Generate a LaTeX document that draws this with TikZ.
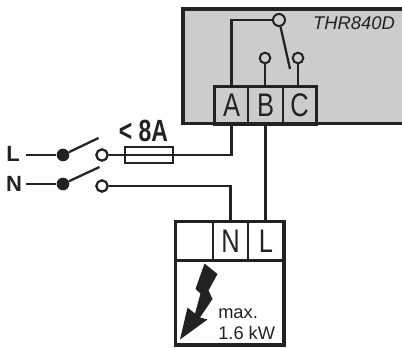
\documentclass[tikz,border=0pt]{standalone}
\usepackage{fontspec}
\setmainfont{Liberation Sans}
\definecolor{housing}{HTML}{CCCCCC}
\definecolor{ink}{HTML}{222222}
\tikzset{
    wire/.style={ink, line width=1.7pt},
    frame/.style={ink, line width=2.4pt},
    contact/.style={circle, draw=ink, line width=1.5pt, inner sep=0pt, minimum size=8pt},
    pivot/.style={circle, fill=ink, inner sep=0pt, minimum size=9.5pt},
    terminal/.style={draw=ink, line width=1.1pt, inner sep=0pt, text=ink, minimum height=27.5pt},
    sidelabel/.style={text=ink, inner sep=0pt, font=\fontsize{16.5}{17}\bfseries\selectfont}
}
\newcommand{\narrowtext}[1]{\scalebox{.78}[1]{\fontsize{24.5}{25}\selectfont #1}}
\begin{document}
\begin{tikzpicture}[x=.75pt, y=-.75pt]
    \useasboundingbox (0,0) rectangle (402,347);

    % thermostat housing
    \fill[housing] (183,9) rectangle (402,123.5);
    \draw[frame, line width=2.8pt] (402,9) -- (183,9) -- (183,123.5) -- (402,123.5);
    \node[text=ink, inner sep=0pt, font=\fontsize{13.8}{14}\itshape\selectfont] (type) at (354,23) {THR840D};

    % terminals
    \node[terminal, minimum width=24.75pt] (A) at (231.5,105.5) {\narrowtext{A}};
    \node[terminal, minimum width=26.25pt] (B) at (265.5,105.5) {\narrowtext{B}};
    \node[terminal, minimum width=24.75pt] (C) at (299.5,105.5) {\narrowtext{C}};
    \draw[frame] (A.north west) rectangle (C.south east);

    % relay
    \node[contact, minimum size=9pt] (relay) at (279,20) {};
    \node[contact] (relayB) at (265,58) {};
    \node[contact] (relayC) at (298,58) {};
    \coordinate (leverend) at (290,69);
    \draw[wire, line width=2.2pt] (A.north) |- (relay.west);
    \draw[wire] (relay) -- (leverend);
    \draw[wire] (relayB) -- (relayB |- B.north);
    \draw[wire] (relayC) -- (relayC |- C.north);

    % switch
    \node[sidelabel] (L) at (13,154) {L};
    \node[sidelabel] (N) at (14,184) {N};
    \node[pivot] (pivotL) at (63,155) {};
    \node[pivot] (pivotN) at (63,184) {};
    \node[contact, line width=1.7pt, minimum size=8.5pt] (contactL) at (102,155) {};
    \node[contact, line width=1.7pt, minimum size=8.5pt] (contactN) at (102,186) {};
    \coordinate (leverL) at (98.5,138);
    \coordinate (leverN) at (99.5,167);
    \draw[wire] (L.east) ++(6,1) -- (pivotL);
    \draw[wire] (N.east) ++(4,0) -- (pivotN);
    \draw[wire] (pivotL) -- (leverL);
    \draw[wire] (pivotN) -- (leverN);

    % fuse
    \node[draw=ink, line width=1.4pt, inner sep=0pt, minimum width=36pt, minimum height=12pt] (fuse) at (149,155) {};
    \node[text=ink, inner sep=0pt] (rating) at (143.5,131) {\scalebox{.75}[1]{\fontsize{23}{24}\bfseries\selectfont < 8A}};
    \draw[wire] (contactL) -- (fuse.west);
    \draw[ink, line width=1pt] (fuse.west) -- (fuse.east);
    \draw[wire] (fuse.east) -| (A.south);

    % load
    \node[terminal, minimum width=27.75pt, minimum height=28.5pt] (blank) at (194.5,241) {};
    \node[terminal, minimum width=26.25pt, minimum height=28.5pt] (loadN) at (230.5,241) {\narrowtext{N}};
    \node[terminal, minimum width=27pt, minimum height=28.5pt] (loadL) at (266,241) {\narrowtext{L}};
    \draw[frame] (blank.north west) rectangle (284,345);
    \draw[ink, line width=1.3pt] (blank.south west) -- (loadL.south east);
    \draw[wire] (contactN) -| (loadN.north);
    \draw[wire] (B.south) -- (B.south |- loadL.north);

    \fill[ink] (204.5,263.5) -- (217.5,274) -- (208.5,290.5) -- (212.5,299) -- (200,317.5) -- (207.5,319.5) -- (180,339.5) -- (187.5,307.5) -- (195,313.5) -- (200.5,293.5) -- (195.5,289) -- cycle;

    \node[anchor=west, text=ink, inner sep=0pt, font=\fontsize{13.7}{14}\selectfont] (maxtext) at (218,314) {max.};
    \node[anchor=west, text=ink, inner sep=0pt, font=\fontsize{13.7}{14}\selectfont] (power) at (218,333) {1.6 kW};
\end{tikzpicture}
\end{document}
